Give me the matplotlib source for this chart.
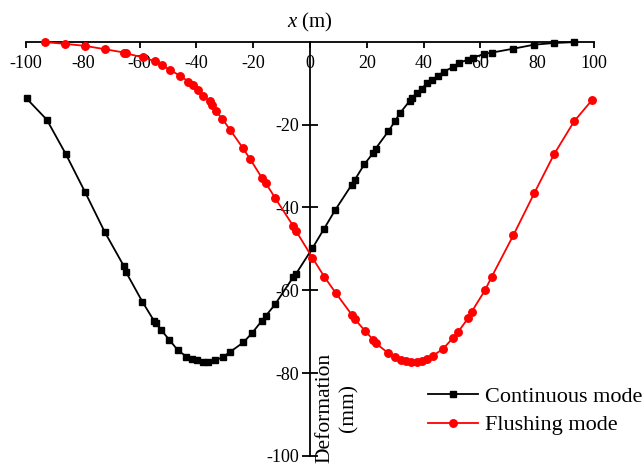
import matplotlib
matplotlib.use("Agg")
import matplotlib.pyplot as plt

plt.rcParams['font.family'] = ['Liberation Serif', 'DejaVu Serif']
plt.rcParams['mathtext.fontset'] = 'custom'
plt.rcParams['mathtext.it'] = 'Liberation Serif:italic'
plt.rcParams['mathtext.rm'] = 'Liberation Serif'

# Ground deformation profiles along the section (x in m, deformation in mm)
cont_x = [-99.8, -92.7, -86.0, -79.2, -72.3, -65.6, -64.8, -59.0, -54.9, -54.2,
          -52.4, -49.5, -46.5, -43.5, -41.5, -39.9, -37.6, -35.8, -33.5, -30.8,
          -28.2, -23.5, -20.5, -17.0, -15.6, -12.3, -5.9, -4.9, 0.8, 4.9,
          8.8, 14.7, 15.8, 19.1, 22.3, 23.1, 27.6, 29.9, 31.7, 35.2,
          35.8, 37.6, 39.3, 41.1, 42.9, 45.2, 47.0, 50.5, 52.3, 55.8,
          57.3, 61.4, 64.2, 71.4, 79.0, 86.0, 93.0]
cont_y = [-13.7, -18.8, -27.1, -36.3, -45.9, -54.1, -55.6, -62.8, -67.4, -68.0,
          -69.6, -72.0, -74.5, -76.0, -76.6, -76.9, -77.2, -77.2, -76.9, -76.2,
          -74.9, -72.6, -70.4, -67.4, -66.2, -63.4, -56.8, -56.0, -49.9, -45.2,
          -40.7, -34.5, -33.3, -29.6, -26.8, -25.8, -21.6, -19.2, -17.2, -14.2,
          -13.6, -12.4, -11.4, -10.0, -9.2, -8.2, -7.2, -6.1, -5.1, -4.3,
          -3.9, -2.9, -2.6, -1.7, -0.7, -0.3, -0.1]

flush_x = [-93.3, -86.3, -79.2, -72.2, -65.5, -64.8, -58.7, -54.6, -52.2, -49.3,
           -45.8, -42.8, -41.1, -39.3, -37.6, -35.2, -34.6, -33.1, -30.9, -28.2,
           -23.7, -21.1, -17.0, -15.5, -12.3, -5.9, -4.9, 0.8, 5.0, 9.0,
           14.7, 15.8, 19.4, 22.3, 23.2, 27.6, 29.9, 32.0, 33.8, 35.6,
           37.6, 39.6, 41.3, 43.3, 46.9, 50.2, 52.2, 55.8, 56.9, 61.6,
           64.0, 71.6, 79.0, 85.9, 93.0, 99.4]
flush_y = [-0.1, -0.5, -1.0, -1.8, -2.6, -2.8, -3.8, -4.7, -5.6, -6.8,
           -8.2, -9.6, -10.5, -11.6, -13.0, -14.4, -15.2, -16.8, -18.6, -21.2,
           -25.6, -28.3, -32.8, -34.2, -37.7, -44.5, -45.7, -52.1, -56.7, -60.6,
           -65.9, -67.0, -69.8, -72.0, -72.8, -75.2, -76.2, -76.8, -77.1, -77.3,
           -77.3, -77.0, -76.6, -75.8, -74.1, -71.6, -70.0, -66.6, -65.2, -60.0,
           -56.7, -46.7, -36.5, -27.2, -19.2, -14.0]

x_ticks = [-100, -80, -60, -40, -20, 0, 20, 40, 60, 80, 100]
y_ticks = [-100, -80, -60, -40, -20]

fig = plt.figure(figsize=(6.44, 4.67), dpi=100)
ax = fig.add_axes([0.0404, 0.0236, 0.882, 0.887])

ax.plot(cont_x, cont_y, color='black', lw=1.3, marker='s', ms=4.3,
        label='Continuous mode', clip_on=False, zorder=3)
ax.plot(flush_x, flush_y, color='red', lw=1.3, marker='o', ms=5.4,
        label='Flushing mode', clip_on=False, zorder=3)

ax.set_xlim(-100, 100)
ax.set_ylim(-100, 0)

# x axis drawn along y = 0, y axis along x = 0
ax.spines['bottom'].set_position(('data', 0))
ax.spines['left'].set_position(('data', 0))
ax.spines['top'].set_visible(False)
ax.spines['right'].set_visible(False)
for s in ('bottom', 'left'):
    ax.spines[s].set_linewidth(1.3)

ax.set_xticks(x_ticks)
ax.set_xticklabels([str(v) for v in x_ticks])
ax.set_yticks(y_ticks)
ax.set_yticklabels([str(v) for v in y_ticks])
ax.tick_params(axis='x', direction='out', length=4.5, width=1.3,
               labelsize=13, pad=5)
ax.tick_params(axis='y', direction='inout', length=12, width=1.3,
               labelsize=13, pad=2)

fig.text(0.482, 1 - 22 / 467, r'$x$ (m)', fontsize=15, ha='center', va='center')
fig.text(337 / 644, 1 - 408 / 467, 'Deformation\n(mm)', fontsize=15.5,
         rotation=90, ha='center', va='center', multialignment='center',
         linespacing=1.3)

ax.legend(loc='center left', bbox_to_anchor=(428 / 644, 1 - 411 / 467),
          bbox_transform=fig.transFigure, frameon=False, fontsize=16,
          borderpad=0, borderaxespad=0, handlelength=2.25, handletextpad=0.3,
          labelspacing=0.35, numpoints=1)

fig.savefig('out.png', dpi=100)
